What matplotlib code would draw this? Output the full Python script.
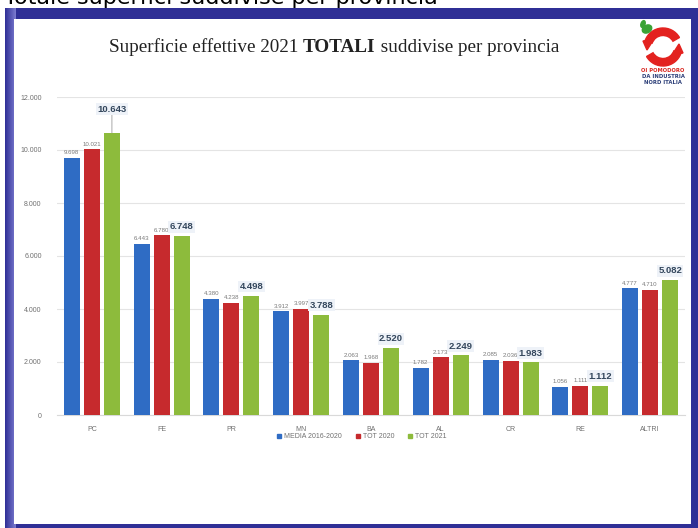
import numpy as np
from matplotlib import pyplot as plt
from matplotlib import patches, colors as mcolors

# superfici (ettari) per provincia
provinces = ['PC', 'FE', 'PR', 'MN', 'BA', 'AL', 'CR', 'RE', 'ALTRI']
media_2016_2020 = [9698, 6443, 4380, 3912, 2063, 1782, 2085, 1056, 4777]
tot_2020 = [10021, 6780, 4238, 3997, 1968, 2173, 2036, 1111, 4710]
tot_2021 = [10643, 6748, 4498, 3788, 2520, 2249, 1983, 1112, 5082]
series_names = ['MEDIA 2016-2020', 'TOT 2020', 'TOT 2021']
y_ticks = [0, 2000, 4000, 6000, 8000, 10000, 12000]

W, H = 698, 528
BLUE = '#2f6cc4'
RED = '#c62a2d'
GREEN = '#8dbb3c'
FRAME = '#2f2f96'


def it_fmt(v):
    # italian thousands separator
    return f'{v:,}'.replace(',', '.')


def px(x0, y0, x1, y1):
    # pixel box (top-left origin) -> figure fraction rect
    return [x0 / W, 1 - y1 / H, (x1 - x0) / W, (y1 - y0) / H]


fig = plt.figure(figsize=(W / 100, H / 100), dpi=100)
fig.patch.set_facecolor('white')

# heading of the page above the slide, mostly hidden by the frame
fig.text(4 / W, 1 - 4 / H, 'Totale superfici suddivise per provincia',
         fontsize=16, color='black', ha='left', va='baseline', zorder=0)

# slide frame
r = px(5, 8, 698, 528)
fig.patches.append(patches.Rectangle((r[0], r[1]), r[2], r[3], transform=fig.transFigure,
                                     facecolor=FRAME, edgecolor='none', zorder=1))
# lighter gradient on the left border
gax = fig.add_axes(px(5, 8, 15, 528))
gax.imshow(np.linspace(0, 1, 50).reshape(1, -1),
           cmap=mcolors.LinearSegmentedColormap.from_list('fr', [FRAME, '#7c7cd0']),
           aspect='auto', extent=[0, 1, 0, 1])
gax.axis('off')
gax.set_zorder(1.5)
r = px(14, 19, 691, 524)
fig.patches.append(patches.Rectangle((r[0], r[1]), r[2], r[3], transform=fig.transFigure,
                                     facecolor='white', edgecolor='none', zorder=2))

# title with a bold word in the middle
renderer = fig.canvas.get_renderer()
parts = [('Superficie effettive 2021 ', 'normal'), ('TOTALI', 'bold'), (' suddivise per provincia', 'normal')]
texts = []
total_w = 0
for s, w in parts:
    t = fig.text(0, 1 - 52 / H, s, fontsize=13.8, family='Liberation Serif', weight=w,
                 color='#222222', ha='left', va='baseline', zorder=5)
    bb = t.get_window_extent(renderer)
    texts.append((t, bb.width))
    total_w += bb.width
x = 334 - total_w / 2
for t, w in texts:
    t.set_x(x / W)
    x += w

# logo
lax = fig.add_axes(px(628, 18, 694, 90))
lax.set_zorder(5)
lax.set_xlim(0, 66)
lax.set_ylim(72, 0)
lax.set_aspect('equal')
lax.axis('off')
lax.add_patch(patches.Wedge((35, 29), 19, 200, 330, width=7.5, color='#e3221f'))
lax.add_patch(patches.Wedge((35, 29), 19, 20, 150, width=7.5, color='#e3221f'))
lax.add_patch(patches.Polygon([[15, 23], [26, 21], [19, 32]], color='#e3221f'))
lax.add_patch(patches.Polygon([[55, 35], [44, 37], [51, 26]], color='#e3221f'))
lax.add_patch(patches.Ellipse((19, 11), 10, 7.5, angle=-30, color='#3aa335'))
lax.add_patch(patches.Ellipse((15, 6), 4, 7, angle=20, color='#3aa335'))
lax.text(35, 53, 'OI POMODORO', fontsize=3.8, color='#d8261f', ha='center', va='center', weight='bold')
lax.text(35, 59, 'DA INDUSTRIA', fontsize=3.8, color='#2c3e78', ha='center', va='center', weight='bold')
lax.text(35, 65, 'NORD ITALIA', fontsize=3.8, color='#2c3e78', ha='center', va='center', weight='bold')

# chart
ax = fig.add_axes(px(57, 97, 685, 415))
ax.set_zorder(4)
ax.patch.set_alpha(0)
x = np.arange(len(provinces))
step, width = 0.287, 0.23
series = [media_2016_2020, tot_2020, tot_2021]
colors = [BLUE, RED, GREEN]
for k, (vals, col) in enumerate(zip(series, colors)):
    ax.bar(x + (k - 1) * step, vals, width, color=col, zorder=3, label=series_names[k])

# small value labels for the first two series
for k in range(2):
    for xi, v in zip(x, series[k]):
        ax.annotate(it_fmt(v), (xi + (k - 1) * step, v), xytext=(0, 2), textcoords='offset points',
                    ha='center', va='bottom', fontsize=4.4, color='#7a7a7a',
                    family='Liberation Sans', zorder=5)

# bold labels for 2021
for xi, v in zip(x, tot_2021):
    off = 14 if v == max(tot_2021) else 3.5
    ax.annotate(it_fmt(v), (xi + step, v), xytext=(0, off), textcoords='offset points',
                ha='center', va='bottom', fontsize=6.8, weight='bold', color='#33465c',
                family='Liberation Sans', zorder=6,
                bbox=dict(boxstyle='square,pad=0.15', fc='#eef2f8', ec='none'),
                arrowprops=dict(arrowstyle='-', color='#9a9a9a', lw=0.6, shrinkA=0, shrinkB=0)
                if off > 10 else None)

ax.set_xlim(-0.5, len(provinces) - 0.5)
ax.set_ylim(0, 12000)
ax.set_yticks(y_ticks)
ax.set_yticklabels([it_fmt(v) for v in y_ticks])
ax.set_xticks(x)
ax.set_xticklabels(provinces)
ax.tick_params(axis='both', length=0, labelsize=5, labelcolor='#707070')
ax.tick_params(axis='y', pad=11)
ax.tick_params(axis='x', pad=8)
for lab in ax.get_xticklabels() + ax.get_yticklabels():
    lab.set_family('Liberation Sans')
ax.grid(axis='y', color='#e4e4e4', lw=0.8, zorder=0)
for s in ['top', 'right', 'left']:
    ax.spines[s].set_visible(False)
ax.spines['bottom'].set_color('#d9d9d9')
ax.spines['bottom'].set_linewidth(0.8)

leg = fig.legend(handles=[patches.Patch(color=c, label=n) for c, n in zip(colors, series_names)],
                 loc='center', bbox_to_anchor=(362 / W, 1 - 437 / H), ncol=3, frameon=False,
                 handlelength=0.6, handleheight=0.6, handletextpad=0.4,
                 columnspacing=2.0, labelcolor='#707070', prop={'family': 'Liberation Sans', 'size': 5})
leg.set_zorder(6)

fig.savefig('out.png', dpi=100)
